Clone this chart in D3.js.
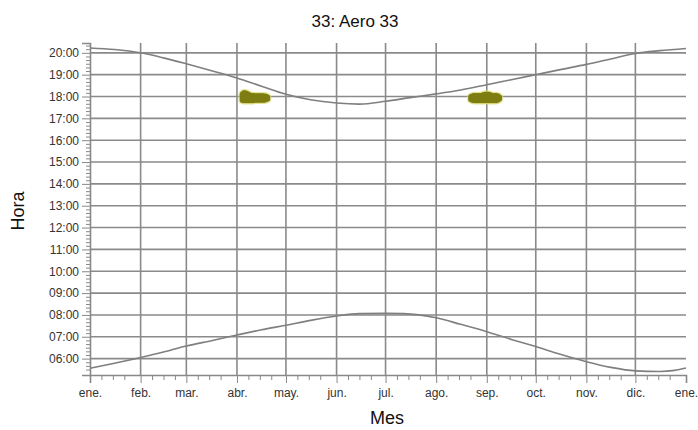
<!DOCTYPE html>
<html><head><meta charset="utf-8">
<script src="https://cdn.jsdelivr.net/npm/d3@7"></script>
<style>
body{margin:0;background:#fff;}
svg{display:block;font-family:"Liberation Sans",Arial,sans-serif;}
</style></head>
<body>
<svg id="c" width="698" height="430"></svg>
<script>
// ---- data ----
const monthLabels = ["ene.","feb.","mar.","abr.","may.","jun.","jul.","ago.","sep.","oct.","nov.","dic.","ene."];
const monthStartDays = [0,31,59,90,120,151,181,212,243,273,304,334,365];
const hourTicks = [6,7,8,9,10,11,12,13,14,15,16,17,18,19,20];

const sunsetDays  = [0,15,31,45,59,75,90,105,120,135,151,165,181,196,212,227,243,258,273,288,304,319,334,349,365];
const sunsetHours = [20.22,20.15,20.00,19.77,19.50,19.17,18.85,18.47,18.10,17.85,17.70,17.65,17.78,17.95,18.12,18.30,18.54,18.77,19.00,19.23,19.47,19.72,19.97,20.10,20.20];

const sunriseDays  = [0,15,31,45,59,75,90,105,120,135,151,165,181,192,212,227,243,258,273,288,304,319,334,349,358,365];
const sunriseHours = [5.56,5.79,6.05,6.30,6.58,6.83,7.08,7.32,7.53,7.75,7.95,8.06,8.07,8.06,7.87,7.57,7.23,6.88,6.55,6.20,5.86,5.60,5.44,5.41,5.46,5.57];

const glareDays  = [93,94,95,96,97,98,99,100,101,102,103,104,105,106,107,108,109,
                    233,234,235,236,237,238,239,240,241,242,243,244,245,246,247,248,249,250,251];
const glareStart = [17.82,17.80,17.80,17.80,17.80,17.80,17.80,17.80,17.82,17.82,17.82,17.82,17.82,17.82,17.82,17.85,17.88,
                    17.85,17.82,17.80,17.80,17.80,17.80,17.80,17.80,17.80,17.80,17.80,17.80,17.80,17.80,17.80,17.80,17.80,17.83,17.87];
const glareEnd   = [18.12,18.18,18.18,18.16,18.12,18.08,18.06,18.06,18.05,18.05,18.05,18.05,18.05,18.05,18.04,18.02,17.98,
                    18.00,18.03,18.06,18.06,18.06,18.06,18.06,18.06,18.10,18.12,18.13,18.12,18.10,18.06,18.06,18.06,18.06,18.03,17.98];

// ---- chart ----
const svg = d3.select("#c");
const x = d3.scaleLinear().domain([0,365]).range([90,686]);
const y = d3.scaleLinear().domain([5.25,20.45]).range([375,43]);
const grid = "#8a8a8a";
const fmtH = h => (h<10?"0":"")+h+":00";

// horizontal gridlines
svg.append("g").selectAll("line").data(hourTicks).join("line")
  .attr("x1",x(0)).attr("x2",x(365))
  .attr("y1",d=>y(d)).attr("y2",d=>y(d))
  .attr("stroke",grid).attr("stroke-width",1.6);
// vertical gridlines
svg.append("g").selectAll("line").data(monthStartDays.slice(1,12)).join("line")
  .attr("x1",d=>x(d)).attr("x2",d=>x(d))
  .attr("y1",y.range()[1]).attr("y2",y.range()[0])
  .attr("stroke",grid).attr("stroke-width",1.6);

// y axis
const minorY = d3.range(5.5*6, 20.45*6).map(v=>v/6).filter(v=>Math.abs(v-Math.round(v))>0.01 && v>=5.25);
const yAxisMinor = d3.axisLeft(y).tickValues(minorY).tickSize(4).tickFormat("");
const yAxis = d3.axisLeft(y).tickValues(hourTicks).tickSize(8).tickPadding(3).tickFormat(fmtH);
const gyMinor = svg.append("g").attr("transform","translate(90,0)").call(yAxisMinor);
gyMinor.select(".domain").remove();
gyMinor.selectAll("line").attr("stroke","#888");
const gy = svg.append("g").attr("transform","translate(90,0)").call(yAxis);
gy.select(".domain").attr("stroke","#888").attr("stroke-width",1.6);
gy.selectAll("line").attr("stroke","#888");
gy.selectAll("text").attr("font-size",12).attr("fill","#333").attr("font-family","Liberation Sans, Arial, sans-serif");

// x axis
const minorX = [];
monthStartDays.slice(0,12).forEach(m=>{ [7,14,21].forEach(o=>minorX.push(m+o)); });
const xAxisMinor = d3.axisBottom(x).tickValues(minorX).tickSize(5).tickFormat("");
const xAxis = d3.axisBottom(x).tickValues(monthStartDays).tickSize(8).tickPadding(5)
  .tickFormat((d,i)=>monthLabels[i]);
const gxMinor = svg.append("g").attr("transform","translate(0,375)").call(xAxisMinor);
gxMinor.select(".domain").remove();
gxMinor.selectAll("line").attr("stroke","#888");
const gx = svg.append("g").attr("transform","translate(0,375)").call(xAxis);
gx.select(".domain").attr("stroke","#888").attr("stroke-width",1.6);
gx.selectAll("line").attr("stroke","#888");
gx.selectAll("text").attr("font-size",12).attr("fill","#333").attr("font-family","Liberation Sans, Arial, sans-serif");

// curves
const line = d3.line().x(d=>x(d[0])).y(d=>y(d[1])).curve(d3.curveMonotoneX);
svg.append("path").datum(sunsetDays.map((d,i)=>[d,sunsetHours[i]]))
  .attr("d",line).attr("fill","none").attr("stroke","#7f7f7f").attr("stroke-width",1.6);
svg.append("path").datum(sunriseDays.map((d,i)=>[d,sunriseHours[i]]))
  .attr("d",line).attr("fill","none").attr("stroke","#7f7f7f").attr("stroke-width",1.6);

// glare marks
const glare = glareDays.map((d,i)=>({d, s:glareStart[i], e:glareEnd[i]}));
svg.append("g").selectAll("line").data(glare).join("line")
  .attr("x1",g=>x(g.d)).attr("x2",g=>x(g.d))
  .attr("y1",g=>y(g.s)).attr("y2",g=>y(g.e))
  .attr("stroke","#dede80").attr("stroke-opacity",0.6).attr("stroke-width",7).attr("stroke-linecap","round");
svg.append("g").selectAll("line").data(glare).join("line")
  .attr("x1",g=>x(g.d)).attr("x2",g=>x(g.d))
  .attr("y1",g=>y(g.s)).attr("y2",g=>y(g.e))
  .attr("stroke","#7d7d12").attr("stroke-width",4.5).attr("stroke-linecap","round");

// titles
svg.append("text").attr("x",355).attr("y",27).attr("text-anchor","middle")
  .attr("font-size",17).attr("fill","#111").text("33: Aero 33");
svg.append("text").attr("x",387).attr("y",424).attr("text-anchor","middle")
  .attr("font-size",18).attr("fill","#111").text("Mes");
svg.append("text").attr("transform","translate(24,211) rotate(-90)").attr("text-anchor","middle")
  .attr("font-size",18).attr("fill","#111").text("Hora");
</script>
</body></html>
